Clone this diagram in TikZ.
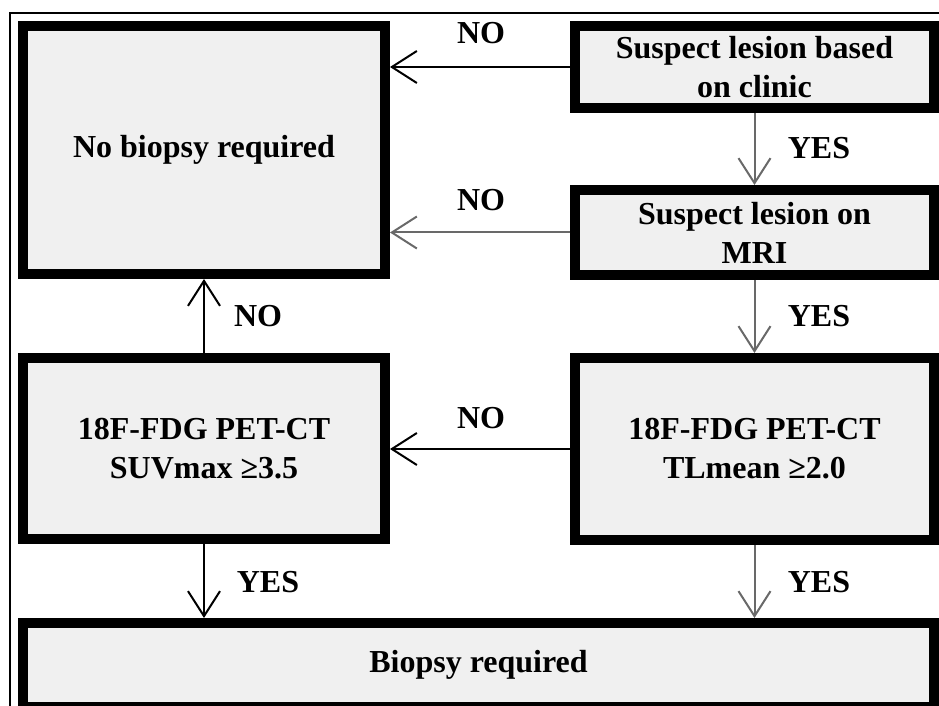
\documentclass[tikz,border=0pt]{standalone}
\usepackage{fontspec}
\setmainfont{Liberation Serif}
\usetikzlibrary{arrows.meta}
\definecolor{boxfill}{RGB}{240,240,240}
\definecolor{linegray}{RGB}{105,105,105}

\begin{document}
\begin{tikzpicture}[x=0.5pt, y=-0.5pt,
	box/.style={draw, fill=boxfill, line width=5pt, align=center, inner sep=0pt,
		font=\bfseries\fontsize{16pt}{19.5pt}\selectfont},
	lbl/.style={inner sep=0pt, font=\bfseries\fontsize{16pt}{19.5pt}\selectfont},
	arr/.style={line width=1pt, -{Straight Barb[length=12.5pt, width=16pt]}}]
	\useasboundingbox (0,0) rectangle (939,706);
	\clip (0,0) rectangle (939,706);
	\draw[line width=1pt] (10,13) rectangle (960,730);

	% boxes
	\node[box, minimum width=181pt, minimum height=124pt] (nobiopsy) at (204,150) {No biopsy required};
	\node[box, minimum width=179.5pt, minimum height=41pt] (clinic) at (754.5,67) {Suspect lesion based\\on clinic};
	\node[box, minimum width=179.5pt, minimum height=42.5pt] (mri) at (754.5,232.5) {Suspect lesion on\\MRI};
	\node[box, minimum width=179.5pt, minimum height=91pt] (tlmean) at (754.5,449) {18F-FDG PET-CT\\TLmean ≥2.0};
	\node[box, minimum width=181pt, minimum height=90.5pt] (suvmax) at (204,448.5) {18F-FDG PET-CT\\SUVmax ≥3.5};
	\node[box, minimum width=455.5pt, minimum height=42pt] (biopsy) at (478.5,665) {Biopsy required};

	% connectors
	\draw[arr] (clinic.west) -- (clinic.west -| nobiopsy.east);
	\draw[arr, linegray] (mri.west) -- (mri.west -| nobiopsy.east);
	\draw[arr, linegray] (clinic.south) -- (mri.north);
	\draw[arr, linegray] (mri.south) -- (tlmean.north);
	\draw[arr] (tlmean.west) -- (tlmean.west -| suvmax.east);
	\draw[arr] (suvmax.north) -- (nobiopsy.south);
	\draw[arr] (suvmax.south) -- (suvmax.south |- biopsy.north);
	\draw[arr, linegray] (tlmean.south) -- (tlmean.south |- biopsy.north);

	% labels
	\node[lbl] (no1) at (481,33) {NO};
	\node[lbl] (no2) at (481,200) {NO};
	\node[lbl] (no3) at (481,418) {NO};
	\node[lbl] (no4) at (258,316) {NO};
	\node[lbl] (yes1) at (819,148) {YES};
	\node[lbl] (yes2) at (819,316) {YES};
	\node[lbl] (yes3) at (268,582) {YES};
	\node[lbl] (yes4) at (819,582) {YES};
\end{tikzpicture}
\end{document}
